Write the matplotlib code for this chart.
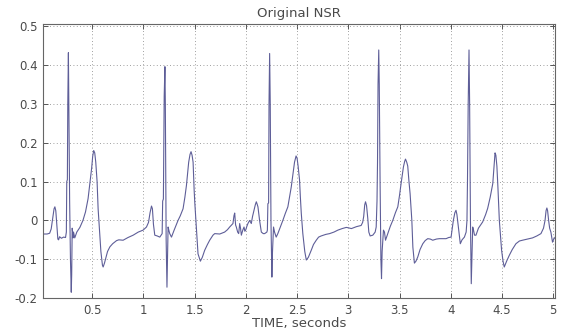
import matplotlib
matplotlib.use("Agg")
import matplotlib.pyplot as plt

time_s = [
    0.019, 0.060, 0.085, 0.100, 0.115, 0.128, 0.136, 0.145, 0.155, 0.165, 0.172, 0.182, 0.200, 0.220, 0.240, 0.248,
    0.252, 0.258, 0.262, 0.268, 0.272, 0.280, 0.288, 0.296, 0.300, 0.305, 0.309, 0.313, 0.318, 0.330, 0.350, 0.380,
    0.410, 0.435, 0.460, 0.480, 0.495, 0.505, 0.515, 0.525, 0.535, 0.548, 0.558, 0.568, 0.585, 0.600, 0.607, 0.620,
    0.650, 0.673, 0.700, 0.738, 0.760, 0.802, 0.850, 0.900, 0.950, 0.997,
    1.030, 1.050, 1.065, 1.079, 1.088, 1.098, 1.111, 1.135, 1.160, 1.183, 1.188, 1.195, 1.203, 1.210, 1.214, 1.222,
    1.230, 1.234, 1.241, 1.248, 1.257, 1.274, 1.300, 1.338, 1.360, 1.387, 1.405, 1.420, 1.442, 1.455, 1.465, 1.475,
    1.485, 1.495, 1.501, 1.518, 1.533, 1.556, 1.575, 1.598, 1.625, 1.647, 1.679, 1.696, 1.745, 1.793, 1.820, 1.842,
    1.860, 1.874, 1.884, 1.891, 1.900, 1.907, 1.920, 1.930, 1.940, 1.948, 1.956, 1.970, 1.982, 1.990, 1.998, 2.010,
    2.020, 2.037, 2.053, 2.065, 2.079, 2.092, 2.102, 2.110, 2.118, 2.134, 2.151, 2.170, 2.183, 2.205, 2.210, 2.215,
    2.222, 2.226, 2.232, 2.238, 2.245, 2.254, 2.260, 2.270, 2.280, 2.296, 2.312, 2.335, 2.361, 2.385, 2.410, 2.430,
    2.443, 2.460, 2.475, 2.490, 2.500, 2.510, 2.524, 2.532, 2.541, 2.556, 2.575, 2.590, 2.610, 2.638, 2.660, 2.687,
    2.710, 2.735, 2.780, 2.817, 2.860, 2.898, 2.940, 2.980, 3.000, 3.030, 3.080, 3.125, 3.140, 3.150, 3.160, 3.168,
    3.178, 3.190, 3.200, 3.213, 3.239, 3.250, 3.262, 3.272, 3.280, 3.285, 3.290, 3.297, 3.302, 3.310, 3.318, 3.324,
    3.330, 3.343, 3.353, 3.363, 3.385, 3.410, 3.434, 3.460, 3.483, 3.500, 3.515, 3.538, 3.550, 3.558, 3.570, 3.580,
    3.592, 3.603, 3.620, 3.630, 3.645, 3.660, 3.678, 3.700, 3.727, 3.750, 3.775, 3.800, 3.824, 3.860, 3.889, 3.920,
    3.954, 3.980, 4.003, 4.015, 4.025, 4.040, 4.051, 4.060, 4.075, 4.093, 4.110, 4.133, 4.150, 4.158, 4.163, 4.170,
    4.178, 4.184, 4.192, 4.200, 4.206, 4.214, 4.222, 4.232, 4.246, 4.270, 4.311, 4.340, 4.360, 4.385, 4.410, 4.425,
    4.432, 4.440, 4.450, 4.460, 4.474, 4.485, 4.496, 4.510, 4.522, 4.545, 4.571, 4.600, 4.636, 4.670, 4.700, 4.750,
    4.798, 4.840, 4.880, 4.905, 4.920, 4.930, 4.938, 4.945, 4.955, 4.965, 4.977, 4.993, 5.005, 5.020,
]

ecg_value = [
    -0.035, -0.035, -0.033, -0.022, 0.005, 0.030, 0.035, 0.025, -0.012, -0.048, -0.050, -0.042, -0.046, -0.043, -0.044, -0.030,
    0.100, 0.105, 0.300, 0.432, 0.310, 0.050, -0.100, -0.185, -0.140, -0.020, -0.030, -0.045, -0.030, -0.045, -0.030, -0.018,
    0.000, 0.022, 0.056, 0.100, 0.135, 0.165, 0.180, 0.174, 0.150, 0.100, 0.030, -0.010, -0.080, -0.115, -0.120, -0.110,
    -0.080, -0.068, -0.060, -0.052, -0.050, -0.051, -0.044, -0.038, -0.030, -0.025,
    -0.017, -0.005, 0.020, 0.037, 0.030, -0.010, -0.038, -0.040, -0.043, -0.034, 0.050, 0.055, 0.320, 0.396, 0.300, -0.050,
    -0.172, -0.120, -0.017, -0.025, -0.034, -0.043, -0.025, 0.000, 0.012, 0.030, 0.060, 0.090, 0.150, 0.170, 0.177, 0.168,
    0.150, 0.080, 0.048, -0.025, -0.086, -0.105, -0.095, -0.077, -0.062, -0.051, -0.038, -0.034, -0.035, -0.030, -0.024, -0.017,
    -0.012, -0.008, 0.012, 0.019, -0.012, -0.017, -0.030, -0.034, -0.008, -0.020, -0.038, -0.025, -0.017, -0.028, -0.025, -0.015,
    -0.008, 0.000, -0.008, 0.010, 0.026, 0.040, 0.048, 0.042, 0.035, 0.000, -0.030, -0.034, -0.034, -0.030, -0.025, 0.043,
    0.045, 0.300, 0.430, 0.300, 0.000, -0.146, -0.080, -0.017, -0.030, -0.043, -0.034, -0.018, 0.000, 0.018, 0.035, 0.065,
    0.086, 0.120, 0.150, 0.166, 0.160, 0.140, 0.104, 0.060, 0.018, -0.034, -0.080, -0.102, -0.095, -0.077, -0.062, -0.051,
    -0.043, -0.040, -0.036, -0.034, -0.030, -0.025, -0.021, -0.018, -0.019, -0.021, -0.016, -0.013, -0.005, 0.010, 0.040, 0.048,
    0.038, 0.005, -0.030, -0.040, -0.038, -0.034, -0.030, -0.017, 0.050, 0.150, 0.350, 0.439, 0.350, 0.100, -0.100, -0.150,
    -0.080, -0.025, -0.030, -0.051, -0.034, -0.015, 0.000, 0.020, 0.035, 0.065, 0.095, 0.138, 0.152, 0.158, 0.150, 0.140,
    0.100, 0.069, 0.000, -0.069, -0.110, -0.105, -0.094, -0.075, -0.060, -0.052, -0.047, -0.048, -0.051, -0.048, -0.047, -0.047,
    -0.047, -0.044, -0.043, -0.020, 0.000, 0.020, 0.026, 0.015, -0.020, -0.060, -0.050, -0.043, -0.030, 0.000, 0.100, 0.300,
    0.439, 0.300, 0.000, -0.163, -0.100, -0.017, -0.025, -0.038, -0.038, -0.020, -0.004, 0.015, 0.031, 0.060, 0.095, 0.150,
    0.174, 0.168, 0.140, 0.086, 0.000, -0.040, -0.077, -0.105, -0.120, -0.105, -0.090, -0.075, -0.060, -0.053, -0.051, -0.048,
    -0.045, -0.040, -0.034, -0.020, 0.000, 0.025, 0.032, 0.025, 0.000, -0.020, -0.030, -0.056, -0.048, -0.043,
]

x_ticks = [0.5, 1, 1.5, 2, 2.5, 3, 3.5, 4, 4.5, 5]
x_tick_labels = ["0.5", "1", "1.5", "2", "2.5", "3", "3.5", "4", "4.5", "5"]
y_ticks = [-0.2, -0.1, 0, 0.1, 0.2, 0.3, 0.4, 0.5]
y_tick_labels = ["-0.2", "-0.1", "0", "0.1", "0.2", "0.3", "0.4", "0.5"]

text_color = "#4a4a4a"
plt.rcParams["font.family"] = ["DejaVu Sans"]

fig = plt.figure(figsize=(5.62, 3.29), dpi=100, facecolor="white")
ax = fig.add_axes([0.0765, 0.094, 0.911, 0.832])
ax.plot(time_s, ecg_value, color="#5e5e98", linewidth=0.8)

ax.set_xlim(0.02, 5.017)
ax.set_ylim(-0.2, 0.505)
ax.set_xticks(x_ticks)
ax.set_xticklabels(x_tick_labels)
ax.set_yticks(y_ticks)
ax.set_yticklabels(y_tick_labels)

ax.tick_params(direction="in", length=3.5, width=0.7, colors="#555555",
               labelcolor=text_color, labelsize=8.5, top=True, right=True, pad=4)
ax.grid(True, color="#808080", linestyle=(0, (1, 3)), linewidth=0.6)
for sp in ax.spines.values():
    sp.set_color("#666666")
    sp.set_linewidth(0.8)

ax.set_title("Original NSR", fontsize=9.5, color=text_color, pad=5)
ax.set_xlabel("TIME, seconds", fontsize=9.5, color=text_color, labelpad=0)

fig.savefig("out.png", dpi=100, facecolor="white")
